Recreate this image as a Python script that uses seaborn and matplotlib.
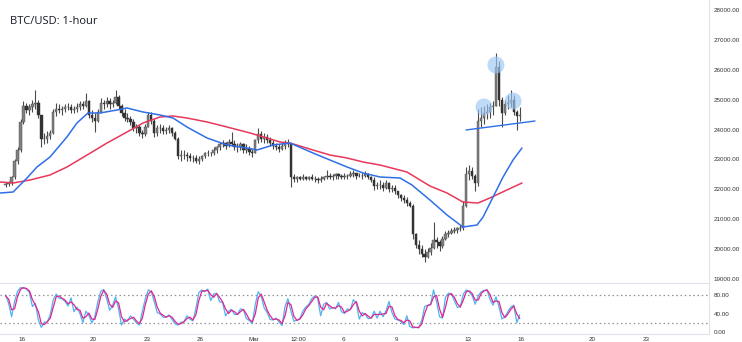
import numpy as np
import pandas as pd
import matplotlib
matplotlib.use("Agg")
import matplotlib.pyplot as plt
import seaborn as sns

# ---------------------------------------------------------------------------
# BTC/USD, 4-hour bars from 2023-02-15 00:00 (time axis = days after Feb 16)
# ---------------------------------------------------------------------------
first_open = 22150
bar_high = [
    22245, 22280, 22450, 23000, 23400, 24350,   # Feb 15
    24950, 24900, 24850, 25000, 25320, 25000,   # Feb 16
    24500, 23900, 23950, 24000, 24700, 24900,   # Feb 17
    24850, 24800, 24850, 24900, 24850, 24800,   # Feb 18
    24900, 24950, 24950, 25220, 25000, 24650,   # Feb 19
    24550, 24700, 25050, 25000, 25100, 25050,   # Feb 20
    25000, 25320, 25150, 24850, 24700, 24550,   # Feb 21
    24450, 24350, 24200, 24150, 24000, 24200,   # Feb 22
    24600, 24600, 24350, 24150, 24200, 24150,   # Feb 23
    24100, 24150, 24100, 23950, 23750, 23300,   # Feb 24
    23300, 23250, 23200, 23150, 23150, 23100,   # Feb 25
    23150, 23250, 23300, 23250, 23400, 23450,   # Feb 26
    23600, 23650, 23600, 23700, 23920, 23650,   # Feb 27
    23550, 23600, 23550, 23500, 23450, 23350,   # Feb 28
    23700, 24050, 23950, 23900, 23850, 23750,   # Mar 1
    23650, 23550, 23500, 23550, 23650, 23700,   # Mar 2
    23500, 22500, 22450, 22450, 22500, 22450,   # Mar 3
    22450, 22500, 22450, 22400, 22450, 22450,   # Mar 4
    22650, 22550, 22500, 22550, 22550, 22500,   # Mar 5
    22550, 22500, 22600, 22650, 22550, 22550,   # Mar 6
    22550, 22600, 22550, 22450, 22400, 22250,   # Mar 7
    22300, 22250, 22300, 22250, 22150, 22150,   # Mar 8
    21950, 21850, 21800, 21750, 21600, 21500,   # Mar 9
    20550, 20300, 20150, 20000, 20050, 20200,   # Mar 10
    20910, 20400, 20300, 20450, 20600, 20650,   # Mar 11
    20700, 20750, 20750, 20800, 21600, 22750,   # Mar 12
    22800, 22750, 22500, 24700, 24750, 24800,   # Mar 13
    24850, 24900, 24950, 26550, 26300, 25100,   # Mar 14
    25000, 25150, 25320, 25150, 24650, 24750,   # Mar 15
]
bar_low = [
    22077, 22100, 22150, 22350, 22850, 23250,
    24200, 24550, 24500, 24600, 24700, 24400,
    23420, 23500, 23550, 23700, 23850, 24450,
    24550, 24500, 24600, 24650, 24550, 24550,
    24600, 24650, 24700, 24750, 24400, 24250,
    23920, 24250, 24550, 24700, 24750, 24700,
    24750, 24850, 24700, 24450, 24300, 24250,
    24150, 23950, 23900, 23800, 23720, 23800,
    24100, 24200, 23750, 23800, 23900, 23850,
    23850, 23900, 23800, 23650, 23000, 22950,
    23000, 22950, 22950, 22900, 22880, 22850,
    22950, 23050, 23100, 23100, 23150, 23200,
    23300, 23400, 23350, 23400, 23450, 23300,
    23250, 23300, 23200, 23200, 23150, 23080,
    23200, 23550, 23600, 23550, 23550, 23450,
    23350, 23300, 23250, 23300, 23350, 23400,
    22080, 22250, 22250, 22300, 22300, 22300,
    22300, 22300, 22250, 22200, 22250, 22300,
    22350, 22350, 22300, 22350, 22350, 22350,
    22350, 22350, 22400, 22400, 22350, 22400,
    22350, 22400, 22350, 22250, 21980, 22000,
    22000, 21950, 22000, 21900, 21900, 21850,
    21700, 21600, 21550, 21450, 21400, 20350,
    20050, 19850, 19750, 19580, 19700, 19800,
    20000, 20050, 19950, 20050, 20300, 20400,
    20500, 20550, 20550, 20600, 20650, 21400,
    22300, 22350, 21950, 22100, 24100, 24200,
    24350, 24400, 24500, 24800, 24800, 24100,
    24500, 24700, 24750, 24500, 23990, 24300,
]
bar_close = [
    22177, 22200, 22400, 22950, 23300, 24250,
    24800, 24650, 24750, 24850, 24900, 24500,
    23700, 23700, 23800, 23900, 24600, 24700,
    24650, 24700, 24750, 24750, 24650, 24700,
    24750, 24850, 24800, 24950, 24500, 24400,
    24300, 24600, 24900, 24850, 24950, 24850,
    24900, 25100, 24800, 24550, 24400, 24350,
    24250, 24050, 24100, 23900, 23850, 24100,
    24500, 24300, 23900, 24050, 24050, 23950,
    24000, 24050, 23900, 23700, 23100, 23150,
    23150, 23100, 23050, 23050, 22950, 23000,
    23100, 23200, 23200, 23200, 23300, 23400,
    23500, 23550, 23450, 23600, 23500, 23400,
    23400, 23500, 23300, 23350, 23250, 23200,
    23650, 23850, 23700, 23750, 23650, 23550,
    23450, 23400, 23350, 23450, 23550, 23500,
    22400, 22350, 22400, 22350, 22400, 22350,
    22400, 22350, 22350, 22300, 22350, 22400,
    22450, 22400, 22450, 22500, 22450, 22400,
    22450, 22450, 22500, 22550, 22450, 22450,
    22450, 22500, 22400, 22300, 22100, 22150,
    22150, 22050, 22200, 22000, 22050, 21950,
    21800, 21700, 21650, 21550, 21450, 20500,
    20150, 20000, 19850, 19750, 19900, 20050,
    20300, 20250, 20100, 20350, 20500, 20550,
    20600, 20650, 20700, 20700, 21450, 22500,
    22600, 22450, 22200, 24300, 24400, 24550,
    24600, 24750, 24800, 26100, 25000, 24550,
    24850, 24900, 25000, 24600, 24450, 24500,
]

# Moving averages (fast = blue, slow = red)
fast_ma_days = [-1.23, -0.50, 0.28, 0.84, 1.57, 2.52, 3.08, 3.70, 4.37, 5.33,
                5.89, 6.79, 7.74, 8.47, 9.25, 10.38, 11.50, 12.62, 13.18, 14.08,
                15.03, 16.32, 17.27, 18.23, 19.13, 20.08, 21.20, 21.87, 22.88,
                23.84, 24.73, 25.52, 25.86, 26.42, 26.98, 27.54, 28.04]
fast_ma = [21877, 21910, 22379, 22747, 23081, 23751, 24219, 24554, 24554, 24654,
           24721, 24587, 24487, 24386, 24085, 23717, 23483, 23383, 23316, 23483,
           23550, 23215, 22981, 22747, 22546, 22412, 22379, 22144, 21642,
           21140, 20739, 20806, 21074, 21743, 22412, 22981, 23383]
slow_ma_days = [-1.23, -0.50, 0.45, 1.57, 2.52, 3.65, 4.77, 5.89, 6.79, 7.74,
                8.47, 9.25, 10.38, 11.50, 12.79, 14.47, 15.03, 16.32, 17.27, 18.23,
                19.13, 20.08, 21.59, 22.88, 23.84, 24.73, 25.57, 26.24, 27.19, 28.04]
slow_ma = [22245, 22211, 22312, 22479, 22747, 23148, 23550, 23918, 24219, 24420,
           24453, 24386, 24253, 24085, 23885, 23583, 23550, 23316, 23148, 23048,
           22914, 22814, 22579, 22111, 21877, 21576, 21542, 21710, 21977, 22211]

# Head-and-shoulders: neckline and the three peaks
neck_days = [24.90, 28.77]
neck_price = [23985, 24286]
peak_days = [25.91, 26.58, 27.54]
peak_price = [24754, 26160, 24955]

# Stochastic RSI (%K and %D), one value per 4-hour bar
stoch_k = [80, 62, 33, 66, 88, 96, 95, 93, 85, 55, 62, 26, 10, 21, 22, 37, 69, 82, 73, 72,
           66, 56, 74, 44, 54, 40, 20, 45, 36, 20, 33, 65, 88, 92, 72, 47, 58, 76, 50, 15,
           28, 23, 35, 28, 20, 15, 45, 72, 91, 87, 66, 42, 39, 32, 32, 37, 27, 18, 15, 21,
           22, 35, 28, 24, 50, 85, 91, 87, 93, 68, 82, 84, 65, 64, 35, 45, 49, 38, 38, 50,
           48, 29, 25, 18, 60, 87, 77, 52, 42, 27, 26, 30, 22, 14, 55, 72, 45, 23, 26, 29,
           45, 54, 60, 72, 78, 73, 35, 60, 64, 50, 53, 50, 64, 44, 40, 50, 48, 70, 62, 28,
           42, 38, 29, 30, 45, 30, 45, 33, 46, 66, 42, 28, 26, 23, 16, 35, 12, 9, 10, 9,
           25, 55, 58, 60, 91, 66, 33, 30, 75, 84, 82, 68, 53, 55, 82, 91, 87, 78, 60, 78,
           87, 90, 91, 70, 58, 76, 55, 28, 33, 44, 54, 58, 20, 37]
stoch_d = [78, 71, 48, 50, 77, 92, 96, 94, 89, 70, 58, 44, 18, 16, 22, 30, 53, 76, 78, 73,
           69, 61, 65, 59, 49, 47, 30, 33, 41, 28, 27, 49, 77, 90, 82, 60, 53, 67, 63, 33,
           22, 26, 29, 32, 24, 18, 30, 59, 82, 89, 77, 54, 41, 36, 32, 35, 32, 23, 17, 18,
           22, 29, 32, 26, 37, 68, 88, 89, 90, 81, 75, 83, 75, 65, 50, 40, 47, 44, 38, 44,
           49, 39, 27, 22, 39, 74, 82, 65, 47, 35, 27, 28, 26, 18, 35, 64, 59, 34, 25, 28,
           37, 50, 57, 66, 75, 76, 54, 48, 62, 57, 52, 52, 57, 54, 42, 45, 49, 59, 66, 45,
           35, 40, 34, 30, 38, 38, 38, 39, 40, 56, 54, 35, 27, 25, 20, 26, 24, 11, 10, 10,
           17, 40, 57, 59, 76, 79, 50, 32, 53, 80, 83, 75, 61, 54, 69, 87, 89, 83, 69, 69,
           83, 89, 91, 81, 64, 67, 66, 42, 31, 39, 49, 56, 39, 29]

# Price axis and date axis labels
price_ticks = [19000, 20000, 21000, 22000, 23000, 24000, 25000, 26000, 27000, 28000]
stoch_ticks = [0, 40, 80]
date_tick_days = [0, 4, 7, 10, 13, 15.5, 18, 21, 25, 28, 32, 35]
date_tick_labels = ["16", "20", "23", "26", "Mar", "12:00", "6", "9", "13", "16", "20", "23"]

# ---------------------------------------------------------------------------
sns.set_theme(style="white")
plt.rcParams["font.family"] = ["Open Sans", "DejaVu Sans"]

BAR = 1.0 / 6.0
n_bars = len(bar_close)
bar_t = -1.0 + (np.arange(n_bars) + 0.5) * BAR
bar_open = np.array([first_open] + bar_close[:-1], dtype=float)
bar_close_a = np.array(bar_close, dtype=float)
up = bar_close_a >= bar_open

W, H = 742, 342
fig = plt.figure(figsize=(W / 100, H / 100), dpi=100)
fig.patch.set_facecolor("white")
ax = fig.add_axes([0, 1 - 283 / H, 709 / W, 283 / H])
ax2 = fig.add_axes([0, 1 - 334 / H, 709 / W, 50 / H], sharex=ax)

BLUE = "#2f6fe8"
RED = "#e8375a"
GRID = "#e0e3eb"

# candles
ax.vlines(bar_t, bar_low, bar_high, color="#4a4a4a", lw=0.8, zorder=2)
body_lo = np.minimum(bar_open, bar_close_a)
body_hi = np.maximum(bar_open, bar_close_a)
ax.bar(bar_t[up], (body_hi - body_lo)[up], bottom=body_lo[up], width=BAR * 0.8,
       color="#808080", edgecolor="#4a4a4a", linewidth=0.3, zorder=2)
ax.bar(bar_t[~up], (body_hi - body_lo)[~up], bottom=body_lo[~up], width=BAR * 0.8,
       color="#333333", edgecolor="#333333", linewidth=0.3, zorder=2)

# moving averages
fast_df = pd.DataFrame({"day": fast_ma_days, "price": fast_ma})
slow_df = pd.DataFrame({"day": slow_ma_days, "price": slow_ma})
sns.lineplot(data=slow_df, x="day", y="price", ax=ax, color=RED, lw=1.1,
             estimator=None, zorder=3)
sns.lineplot(data=fast_df, x="day", y="price", ax=ax, color=BLUE, lw=1.1,
             estimator=None, zorder=3)

# neckline and shoulder/head markers
sns.lineplot(x=neck_days, y=neck_price, ax=ax, color=BLUE, lw=1.0, estimator=None, zorder=4)
ax.scatter(peak_days, peak_price, s=150, color="#9cc7f2", alpha=0.65,
           edgecolors="none", zorder=4)

ax.set_xlim(-1.234, 38.53)
ax.set_ylim(18866, 28334)
ax.yaxis.tick_right()
ax.set_yticks(price_ticks)
ax.set_yticklabels([f"{v:.2f}" for v in price_ticks])
ax.tick_params(axis="y", length=0, pad=3.5, labelsize=4.5, labelcolor="#333333")
ax.tick_params(axis="x", bottom=False, labelbottom=False)
ax.set_xlabel("")
ax.set_ylabel("")
for s in ("top", "left"):
    ax.spines[s].set_visible(False)
for s in ("bottom", "right"):
    ax.spines[s].set_color(GRID)
    ax.spines[s].set_linewidth(0.8)
for lab in ax.get_yticklabels():
    lab.set_family(["Liberation Sans Narrow", "Liberation Sans", "DejaVu Sans"])

# stochastic RSI panel
k_df = pd.DataFrame({"day": -1.0 + (np.arange(len(stoch_k)) + 0.5) * BAR, "v": stoch_k})
d_df = pd.DataFrame({"day": -1.0 + (np.arange(len(stoch_d)) + 0.5) * BAR, "v": stoch_d})
sns.lineplot(data=k_df, x="day", y="v", ax=ax2, color="#4fb3f0", lw=0.9, estimator=None, zorder=3)
sns.lineplot(data=d_df, x="day", y="v", ax=ax2, color="#e0268f", lw=0.9, estimator=None, zorder=3)
for lvl in (80, 20):
    ax2.axhline(lvl, color="#8f929a", lw=0.9, ls=(0, (1.2, 2.2)), zorder=1)

ax2.set_ylim(-4.3, 103.8)
ax2.yaxis.tick_right()
ax2.set_yticks(stoch_ticks)
ax2.set_yticklabels([f"{v:.2f}" for v in stoch_ticks])
ax2.tick_params(axis="y", length=0, pad=3.5, labelsize=4.5, labelcolor="#333333")
ax2.set_xticks(date_tick_days)
ax2.set_xticklabels(date_tick_labels)
ax2.tick_params(axis="x", length=0, pad=2.5, labelsize=4.5, labelcolor="#333333")
ax2.set_xlabel("")
ax2.set_ylabel("")
for s in ("top", "left"):
    ax2.spines[s].set_visible(False)
for s in ("bottom", "right"):
    ax2.spines[s].set_color(GRID)
    ax2.spines[s].set_linewidth(0.8)
for lab in ax2.get_yticklabels() + ax2.get_xticklabels():
    lab.set_family(["Liberation Sans Narrow", "Liberation Sans", "DejaVu Sans"])
ax2.set_xlim(-1.234, 38.53)

fig.text(10 / W, 1 - 24 / H, "BTC/USD: 1-hour", fontsize=8, color="#131722",
         family=["Open Sans", "DejaVu Sans"], va="baseline", ha="left")

fig.savefig("out.png", dpi=100, facecolor="white")
